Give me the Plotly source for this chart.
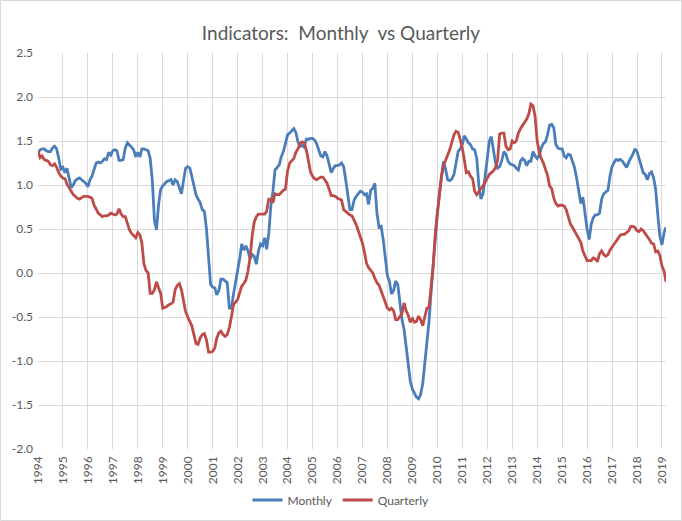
import pandas as pd
import plotly.graph_objects as go

# ---- data ----
start_month = "1994-01-01"

monthly_values = [
    1.37, 1.40, 1.41, 1.41, 1.39, 1.38, 1.38, 1.42, 1.44, 1.41, 1.30, 1.18,   # 1994
    1.20, 1.14, 1.19, 1.08, 0.97, 1.00, 1.05, 1.07, 1.08, 1.06, 1.04, 1.02,   # 1995
    0.98, 1.06, 1.10, 1.17, 1.25, 1.26, 1.25, 1.27, 1.30, 1.29, 1.37, 1.34,   # 1996
    1.39, 1.40, 1.39, 1.28, 1.28, 1.29, 1.42, 1.48, 1.46, 1.43, 1.40, 1.32,   # 1997
    1.37, 1.32, 1.41, 1.41, 1.40, 1.39, 1.30, 1.05, 0.60, 0.49, 0.78, 0.95,   # 1998
    0.99, 1.02, 1.04, 1.05, 1.06, 1.00, 1.06, 1.04, 0.98, 0.90, 1.05, 1.19,   # 1999
    1.21, 1.19, 1.10, 1.00, 0.89, 0.84, 0.80, 0.72, 0.70, 0.50, 0.12, -0.13,  # 2000
    -0.16, -0.17, -0.25, -0.20, -0.07, -0.07, -0.09, -0.11, -0.40, -0.40, -0.24, -0.12,  # 2001
    0.02, 0.17, 0.33, 0.26, 0.31, 0.25, 0.16, 0.21, 0.19, 0.10, 0.25, 0.33,   # 2002
    0.31, 0.40, 0.27, 0.45, 0.76, 0.93, 1.17, 1.20, 1.23, 1.32, 1.38, 1.47,   # 2003
    1.57, 1.59, 1.61, 1.64, 1.60, 1.49, 1.44, 1.45, 1.43, 1.52, 1.52, 1.53,   # 2004
    1.53, 1.51, 1.47, 1.40, 1.33, 1.32, 1.38, 1.33, 1.22, 1.14, 1.19, 1.22,   # 2005
    1.22, 1.23, 1.25, 1.21, 1.06, 0.86, 0.72, 0.72, 0.83, 0.87, 0.90, 0.93,   # 2006
    0.92, 0.89, 0.90, 0.78, 0.94, 0.96, 1.02, 0.68, 0.52, 0.53, 0.38, 0.20,   # 2007
    -0.03, -0.10, -0.24, -0.20, -0.09, -0.13, -0.32, -0.53, -0.64, -0.85, -1.06, -1.23,  # 2008
    -1.32, -1.37, -1.41, -1.43, -1.38, -1.26, -1.05, -0.82, -0.55, -0.22, 0.07, 0.45,    # 2009
    0.69, 0.90, 1.10, 1.27, 1.18, 1.06, 1.05, 1.07, 1.12, 1.25, 1.38, 1.41,   # 2010
    1.46, 1.56, 1.52, 1.48, 1.46, 1.41, 1.40, 1.30, 0.99, 0.84, 0.90, 1.08,   # 2011
    1.29, 1.50, 1.55, 1.42, 1.25, 1.19, 1.21, 1.28, 1.38, 1.35, 1.27, 1.24,   # 2012
    1.23, 1.22, 1.19, 1.17, 1.27, 1.30, 1.28, 1.22, 1.27, 1.27, 1.38, 1.33,   # 2013
    1.30, 1.34, 1.42, 1.47, 1.49, 1.57, 1.68, 1.69, 1.65, 1.46, 1.42, 1.41,   # 2014
    1.41, 1.33, 1.31, 1.35, 1.34, 1.27, 1.20, 1.08, 0.92, 0.79, 0.86, 0.68,   # 2015
    0.50, 0.38, 0.55, 0.63, 0.66, 0.66, 0.68, 0.84, 0.90, 0.92, 0.94, 1.10,   # 2016
    1.21, 1.26, 1.29, 1.28, 1.29, 1.27, 1.23, 1.20, 1.26, 1.30, 1.35, 1.41,   # 2017
    1.38, 1.30, 1.21, 1.14, 1.12, 1.06, 1.13, 1.15, 1.08, 0.95, 0.66, 0.42,   # 2018
    0.32, 0.46, 0.52,                                                         # 2019
]

quarterly_values = [
    1.39, 1.31, 1.33, 1.29, 1.28, 1.27, 1.23, 1.22, 1.24, 1.20, 1.14, 1.10,   # 1994
    1.08, 1.07, 1.01, 0.96, 0.93, 0.89, 0.87, 0.85, 0.84, 0.86, 0.87, 0.87,   # 1995
    0.87, 0.86, 0.85, 0.77, 0.72, 0.68, 0.66, 0.64, 0.65, 0.65, 0.66, 0.68,   # 1996
    0.67, 0.66, 0.67, 0.73, 0.67, 0.64, 0.64, 0.57, 0.49, 0.45, 0.42, 0.40,   # 1997
    0.46, 0.43, 0.34, 0.10, 0.03, 0.00, -0.23, -0.23, -0.19, -0.10, -0.17, -0.23,  # 1998
    -0.40, -0.39, -0.38, -0.36, -0.35, -0.33, -0.19, -0.14, -0.12, -0.19, -0.34, -0.44,  # 1999
    -0.50, -0.55, -0.60, -0.70, -0.80, -0.81, -0.74, -0.70, -0.69, -0.76, -0.90, -0.90,  # 2000
    -0.89, -0.85, -0.74, -0.68, -0.66, -0.70, -0.72, -0.70, -0.62, -0.50, -0.36, -0.33,  # 2001
    -0.30, -0.22, -0.15, -0.12, -0.08, 0.02, 0.17, 0.42, 0.58, 0.64, 0.67, 0.67,  # 2002
    0.67, 0.67, 0.70, 0.84, 0.84, 0.80, 0.90, 0.89, 0.89, 0.92, 0.94, 0.95,   # 2003
    1.16, 1.25, 1.28, 1.30, 1.37, 1.41, 1.47, 1.49, 1.48, 1.40, 1.28, 1.15,   # 2004
    1.10, 1.07, 1.06, 1.08, 1.09, 1.09, 1.06, 1.02, 0.95, 0.88, 0.88, 0.87,   # 2005
    0.85, 0.84, 0.83, 0.72, 0.70, 0.68, 0.66, 0.65, 0.60, 0.55, 0.48, 0.42,   # 2006
    0.34, 0.23, 0.11, 0.06, 0.03, 0.00, -0.06, -0.11, -0.14, -0.20, -0.28, -0.32,  # 2007
    -0.40, -0.42, -0.40, -0.43, -0.53, -0.53, -0.50, -0.46, -0.34, -0.43, -0.48, -0.56,  # 2008
    -0.52, -0.56, -0.55, -0.49, -0.53, -0.60, -0.50, -0.40, -0.39, -0.18, 0.08, 0.44,    # 2009
    0.65, 0.88, 1.10, 1.22, 1.29, 1.34, 1.40, 1.48, 1.57, 1.61, 1.60, 1.52,   # 2010
    1.42, 1.28, 1.14, 1.15, 1.10, 1.07, 0.93, 0.89, 0.93, 0.96, 0.99, 1.03,   # 2011
    1.08, 1.12, 1.14, 1.16, 1.20, 1.28, 1.58, 1.59, 1.59, 1.44, 1.40, 1.41,   # 2012
    1.50, 1.48, 1.50, 1.59, 1.64, 1.68, 1.71, 1.75, 1.81, 1.92, 1.90, 1.78,   # 2013
    1.50, 1.37, 1.30, 1.25, 1.18, 1.11, 0.99, 0.96, 0.85, 0.79, 0.76, 0.77,   # 2014
    0.77, 0.76, 0.72, 0.63, 0.56, 0.52, 0.48, 0.43, 0.40, 0.35, 0.25, 0.19,   # 2015
    0.14, 0.14, 0.14, 0.17, 0.16, 0.13, 0.22, 0.25, 0.21, 0.19, 0.21, 0.26,   # 2016
    0.30, 0.33, 0.36, 0.40, 0.43, 0.44, 0.44, 0.46, 0.48, 0.53, 0.53, 0.52,   # 2017
    0.48, 0.47, 0.50, 0.48, 0.45, 0.42, 0.38, 0.34, 0.33, 0.24, 0.25, 0.20,   # 2018
    0.08, 0.02, -0.10,                                                        # 2019
]

series_names = ["Monthly", "Quarterly"]
series_colors = ["#4A7EBB", "#BE4B48"]
y_tick_values = [2.5, 2.0, 1.5, 1.0, 0.5, 0.0, -0.5, -1.0, -1.5, -2.0]
x_tick_years = list(range(1994, 2020))

monthly_dates = pd.date_range(start_month, periods=len(monthly_values), freq="MS")
quarterly_dates = pd.date_range(start_month, periods=len(quarterly_values), freq="MS")

FONT = "Lato, Carlito, Calibri, 'Liberation Sans', sans-serif"
TXT = "#595959"
GRID = "#D9D9D9"

fig = go.Figure()
for name, dates, vals, col in zip(series_names,
                                  [monthly_dates, quarterly_dates],
                                  [monthly_values, quarterly_values],
                                  series_colors):
    fig.add_trace(go.Scatter(x=dates, y=vals, mode="lines", name=name,
                             line=dict(color=col, width=2.8)))

W, H = 682, 521
L, R, T, B = 38, 16, 53, 72
pw, ph = W - L - R, H - T - B

fig.update_layout(
    width=W, height=H, autosize=False,
    margin=dict(l=L, r=R, t=T, b=B, pad=0, autoexpand=False),
    paper_bgcolor="white", plot_bgcolor="white",
    font=dict(family=FONT, size=12, color=TXT),
    title=dict(text="Indicators:\u00a0 Monthly\u00a0 vs Quarterly",
               x=0.5, xanchor="center", y=1 - 33 / H, yanchor="middle",
               xref="container", yref="container",
               font=dict(family=FONT, size=19, color=TXT)),
    showlegend=True,
    legend=dict(orientation="h", x=0.5, xanchor="center", xref="container",
                y=1 - 500 / H, yanchor="middle", yref="container",
                font=dict(family=FONT, size=12, color=TXT),
                bgcolor="rgba(0,0,0,0)", itemwidth=30),
    xaxis=dict(
        type="date", automargin=False,
        range=[monthly_dates[0], monthly_dates[-1]],
        tickvals=[pd.Timestamp(f"{y}-01-01") for y in x_tick_years],
        ticktext=[str(y) for y in x_tick_years],
        tickangle=-90, ticklabelstandoff=4,
        showgrid=True, gridcolor=GRID, gridwidth=1,
        zeroline=False, showline=False, ticks="",
        tickfont=dict(family=FONT, size=12, color=TXT),
    ),
    yaxis=dict(
        range=[-2.0, 2.5], automargin=False,
        tickvals=y_tick_values,
        ticktext=[f"{v:.1f}" for v in y_tick_values],
        ticklabelstandoff=4,
        showgrid=True, gridcolor=GRID, gridwidth=1,
        zeroline=False, showline=False, ticks="",
        tickfont=dict(family=FONT, size=12, color=TXT),
    ),
)

# chart-area border (light grey frame around the whole picture)
fig.add_shape(type="rect", xref="paper", yref="paper",
              x0=(0.5 - L) / pw, x1=(W - 0.5 - L) / pw,
              y0=-(H - 0.5 - T - ph) / ph, y1=(T - 0.5) / ph + 1,
              line=dict(color="#D9D9D9", width=1), fillcolor="rgba(0,0,0,0)",
              layer="below")

fig.write_html("out.html", config={"displayModeBar": False},
               post_script="document.body.style.margin='0';")
